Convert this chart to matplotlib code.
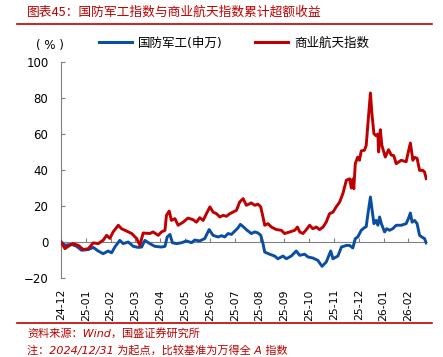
import matplotlib
matplotlib.use("Agg")
import matplotlib.pyplot as plt
from matplotlib.lines import Line2D

plt.rcParams['font.family'] = ['DejaVu Sans', 'Noto Sans CJK SC']

# x in months since 2024-12-31, y in %
red_x = [0.00, 0.16, 0.29, 0.49, 0.70, 0.90, 1.10, 1.30, 1.50, 1.70, 1.84, 1.97, 2.10,
         2.31, 2.44, 2.64, 2.85, 3.05, 3.18, 3.31, 3.58, 3.71, 3.92, 4.05, 4.19, 4.25,
         4.36, 4.45, 4.59, 4.72, 4.92, 5.12, 5.32, 5.46, 5.59, 5.73, 5.86, 6.00, 6.13,
         6.27, 6.40, 6.53, 6.67, 6.80, 7.07, 7.20, 7.34, 7.47, 7.67, 7.81, 7.94, 8.05,
         8.14, 8.21, 8.34, 8.48, 8.68, 8.88, 9.01, 9.22, 9.42, 9.53, 9.62, 9.75, 9.89,
         10.02, 10.15, 10.29, 10.42, 10.56, 10.69, 10.82, 10.96, 11.09, 11.23, 11.36,
         11.50, 11.63, 11.70, 11.76, 11.80, 11.86, 11.96, 12.03, 12.10, 12.23, 12.30,
         12.37, 12.47, 12.53, 12.61, 12.70, 12.77, 12.80, 12.87, 12.93, 13.07, 13.20,
         13.31, 13.41, 13.51, 13.71, 13.91, 13.98, 14.08, 14.18, 14.25, 14.35, 14.45,
         14.58, 14.65, 14.72]
red_y = [0.0, -3.7, -2.4, -0.9, -1.9, -4.2, -3.7, -0.5, -0.9, 1.0, 3.7, 2.0, 5.6,
         9.3, 7.4, 6.1, 4.7, 1.9, -1.8, 5.0, 4.7, 5.6, 3.7, 5.6, 6.5, 14.8,
         17.2, 12.0, 13.0, 9.3, 11.0, 13.3, 12.4, 11.0, 13.5, 12.0, 15.7, 19.5, 16.6,
         15.7, 13.9, 14.8, 14.3, 15.7, 17.6, 22.2, 24.1, 20.4, 21.7, 20.4, 21.0, 19.5,
         13.9, 9.3, 10.2, 8.3, 6.9, 6.5, 4.7, 5.6, 6.5, 8.3, 5.6, 4.7, 6.9,
         9.3, 7.4, 8.3, 6.9, 8.3, 11.1, 15.7, 16.6, 19.5, 22.2, 26.9,
         34.3, 35.1, 30.0, 35.0, 29.6, 43.5, 47.2, 45.4, 50.6, 51.0, 53.7,
         65.8, 82.8, 71.3, 60.2, 59.0, 60.0, 50.0, 62.4, 53.7, 47.2, 51.3,
         48.3, 48.0, 43.5, 45.4, 44.6, 49.0, 55.0, 45.4, 47.0, 46.5, 39.8,
         39.8, 38.9, 35.2]

blue_x = [0.00, 0.16, 0.43, 0.63, 0.83, 1.10, 1.30, 1.50, 1.70, 1.90, 2.04, 2.17, 2.37,
          2.51, 2.71, 2.91, 3.11, 3.25, 3.38, 3.58, 3.78, 4.05, 4.19, 4.28, 4.39, 4.49,
          4.66, 4.86, 5.06, 5.26, 5.39, 5.59, 5.79, 5.97, 6.13, 6.33, 6.47, 6.60, 6.73,
          6.87, 7.00, 7.13, 7.23, 7.36, 7.50, 7.67, 7.81, 7.94, 8.05, 8.14, 8.21, 8.41,
          8.61, 8.74, 8.95, 9.08, 9.28, 9.48, 9.62, 9.82, 9.95, 10.15, 10.35, 10.52,
          10.69, 10.87, 10.96, 11.16, 11.30, 11.50, 11.63, 11.76, 11.86, 11.96, 12.10,
          12.23, 12.30, 12.37, 12.47, 12.54, 12.61, 12.70, 12.77, 12.84, 12.91, 13.04,
          13.13, 13.24, 13.37, 13.51, 13.71, 13.91, 14.00, 14.08, 14.15, 14.25, 14.35,
          14.45, 14.54, 14.65, 14.72]
blue_y = [0.0, -1.8, -1.3, -2.4, -4.6, -4.2, -3.0, -5.0, -6.5, -5.0, -6.0, -2.8, 0.9,
          -0.9, 0.0, -2.4, -3.0, -2.8, 0.9, -0.9, -2.4, -2.8, -2.4, 2.8, 4.2, -0.4,
          -0.9, -0.4, 0.6, -0.4, 1.1, 0.6, 1.9, 6.9, 3.7, 2.8, 3.5, 2.8, 4.7,
          4.2, 6.0, 7.8, 9.8, 8.3, 6.5, 4.7, 5.6, 5.0, 3.7, -0.9, -5.6, -6.8,
          -7.8, -9.3, -7.8, -9.3, -7.8, -5.0, -7.4, -6.8, -8.3, -8.9, -10.2, -13.5,
          -11.1, -5.0, -9.3, -7.8, -2.8, -1.9, -1.9, -3.3, 1.9, 2.8, 6.5,
          8.0, 8.5, 15.7, 25.0, 17.6, 10.2, 12.0, 9.3, 13.9, 10.2, 5.6,
          7.4, 6.5, 7.4, 9.3, 9.3, 10.2, 13.0, 16.1, 11.0, 12.0, 10.2,
          3.7, 2.8, 1.9, -0.5]

month_labels = ['24-12', '25-01', '25-02', '25-03', '25-04', '25-05', '25-06', '25-07',
                '25-08', '25-09', '25-10', '25-11', '25-12', '26-01', '26-02']

RED = '#C00000'
BLUE = '#0A4DA2'
GRAY = '#808080'

fig = plt.figure(figsize=(4.43, 3.57), dpi=100)
ax = fig.add_axes([61 / 443, 1 - 278 / 357, (427 - 61) / 443, (278 - 62) / 357])

ax.plot(blue_x, blue_y, color=BLUE, lw=2.1, solid_joinstyle='round', zorder=3)
ax.plot(red_x, red_y, color=RED, lw=2.1, solid_joinstyle='round', zorder=3)

ax.set_xlim(0, 14.75)
ax.set_ylim(-20, 100)
ax.set_yticks(range(-20, 101, 20))

for s in ['top', 'right']:
    ax.spines[s].set_visible(False)
ax.spines['left'].set_color(GRAY)
ax.spines['left'].set_linewidth(0.8)
ax.spines['bottom'].set_position(('data', 0))
ax.spines['bottom'].set_color(GRAY)
ax.spines['bottom'].set_linewidth(0.8)
ax.spines['bottom'].set_zorder(2)

ax.tick_params(axis='y', direction='in', length=3, color=GRAY, pad=9,
               labelsize=8.5, labelcolor='black')
ax.set_xticks(range(len(month_labels)))
ax.tick_params(axis='x', direction='in', length=3, color=GRAY, labelbottom=False)

sec = ax.secondary_xaxis('bottom')
sec.set_xticks(range(len(month_labels)))
sec.set_xticklabels(month_labels, rotation=90)
sec.tick_params(length=0, pad=8, labelsize=7.8)
sec.spines['bottom'].set_visible(False)

# header / footer
fig.text(27 / 443, 1 - 12 / 357, '图表45：国防军工指数与商业航天指数累计超额收益',
         color=RED, fontsize=9.2, style='italic', va='center', ha='left',
         family=['Noto Sans CJK SC'])
fig.add_artist(Line2D([17 / 443, 432 / 443], [1 - 24 / 357] * 2, color=RED, lw=1.2))
fig.add_artist(Line2D([17 / 443, 432 / 443], [1 - 323 / 357] * 2, color=RED, lw=1.2))

fig.text(50 / 443, 1 - 45 / 357, '( % )', fontsize=8.5, ha='center', va='center')
handles = [Line2D([], [], color=BLUE, lw=2.2), Line2D([], [], color=RED, lw=2.2)]
fig.legend(handles, ['国防军工(申万)', '商业航天指数'], loc='center left',
           bbox_to_anchor=(99 / 443, 1 - 43 / 357), ncol=2, frameon=False,
           fontsize=9, handlelength=2.6, handletextpad=0.5, columnspacing=2.6,
           borderaxespad=0, borderpad=0)

fig.text(27 / 443, 1 - 333 / 357, '资料来源：Wind，国盛证券研究所', color=RED,
         fontsize=8, style='italic', va='center', ha='left')
fig.text(27 / 443, 1 - 350 / 357, '注：2024/12/31 为起点，比较基准为万得全 A 指数',
         color=RED, fontsize=8, style='italic', va='center', ha='left')

fig.savefig('out.png', dpi=100)
